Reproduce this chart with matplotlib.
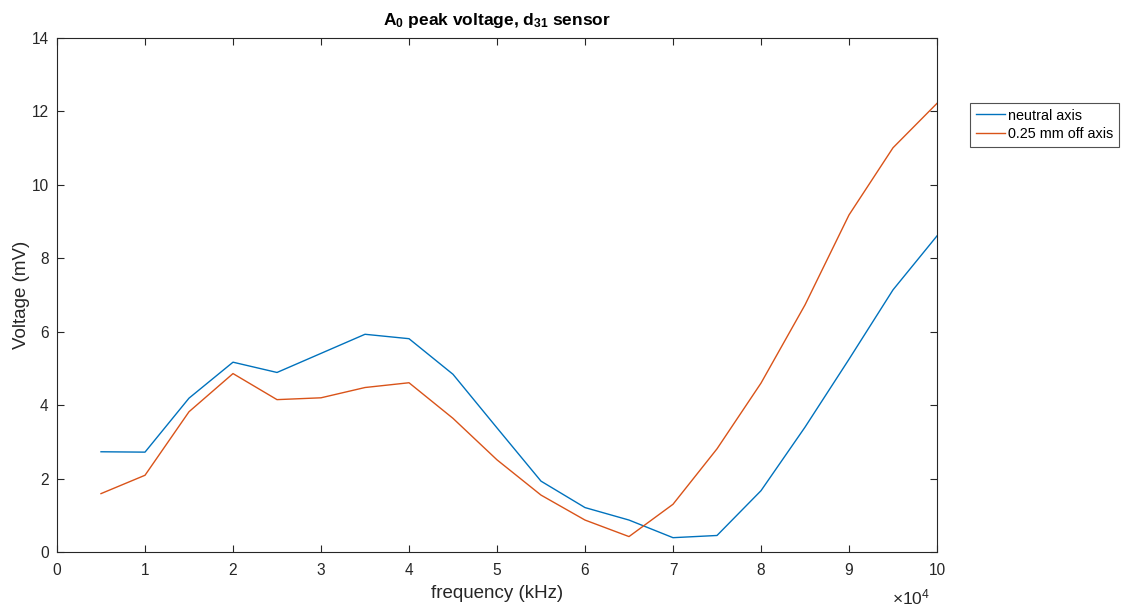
import matplotlib
matplotlib.use("Agg")
import matplotlib.pyplot as plt
from matplotlib.ticker import FuncFormatter

plt.rcParams["font.family"] = ["Liberation Sans", "DejaVu Sans"]
plt.rcParams["mathtext.fontset"] = "custom"
plt.rcParams["mathtext.rm"] = "Liberation Sans"
plt.rcParams["mathtext.it"] = "Liberation Sans:italic"
plt.rcParams["mathtext.bf"] = "Liberation Sans:bold"

# Frequency (Hz) and peak voltages (mV)
freq = [5000, 10000, 15000, 20000, 25000, 30000, 35000, 40000, 45000, 50000,
        55000, 60000, 65000, 70000, 75000, 80000, 85000, 90000, 95000, 100000]
neutral_axis = [2.73, 2.72, 4.19, 5.17, 4.89, 5.41, 5.93, 5.81, 4.84, 3.38,
                1.93, 1.21, 0.87, 0.39, 0.45, 1.67, 3.40, 5.25, 7.14, 8.61]
off_axis = [1.59, 2.09, 3.82, 4.86, 4.15, 4.20, 4.48, 4.61, 3.64, 2.51,
            1.55, 0.87, 0.42, 1.30, 2.81, 4.60, 6.73, 9.18, 11.01, 12.22]
series_labels = ["neutral axis", "0.25 mm off axis"]

x_ticks = [i * 10000 for i in range(11)]
y_ticks = [0, 2, 4, 6, 8, 10, 12, 14]

blue = "#0072BD"
orange = "#D95319"
axis_col = "#262626"

fig = plt.figure(figsize=(11.21, 6.06), dpi=100)
ax = fig.add_axes([57 / 1121, 54 / 606, 880 / 1121, 514 / 606])

ax.plot(freq, neutral_axis, color=blue, lw=1.0, label=series_labels[0])
ax.plot(freq, off_axis, color=orange, lw=1.0, label=series_labels[1])

ax.set_xlim(0, 100000)
ax.set_ylim(0, 14)
ax.set_xticks(x_ticks)
ax.set_yticks(y_ticks)
ax.xaxis.set_major_formatter(FuncFormatter(lambda v, p: f"{v / 1e4:g}"))

ax.tick_params(direction="in", top=True, right=True, length=5, width=0.8,
               colors=axis_col, labelsize=11.2, labelcolor=axis_col)
ax.tick_params(axis="x", pad=8)
ax.tick_params(axis="y", pad=6)
for sp in ax.spines.values():
    sp.set_color(axis_col)
    sp.set_linewidth(0.8)

ax.set_xlabel("frequency (kHz)", fontsize=13.5, color=axis_col, labelpad=5)
ax.set_ylabel("Voltage (mV)", fontsize=13.5, color=axis_col, labelpad=1)
ax.set_title(r"A$_\mathbf{0}$ peak voltage, d$_\mathbf{31}$ sensor",
             fontsize=12.5, fontweight="bold", color="black", pad=9)

ax.text(0.97, -0.0875, r"$\times10^{4}$", transform=ax.transAxes,
        ha="center", va="center", fontsize=12.5, color=axis_col)

leg = ax.legend(loc="upper left", bbox_to_anchor=(1.0375, 0.874),
                frameon=True, fancybox=False, fontsize=10.4, handlelength=2.0,
                handletextpad=0.25, borderpad=0.4, labelspacing=0.3,
                borderaxespad=0)
leg.get_frame().set_edgecolor(axis_col)
leg.get_frame().set_linewidth(0.8)

fig.savefig("out.png", dpi=100, facecolor="white")
